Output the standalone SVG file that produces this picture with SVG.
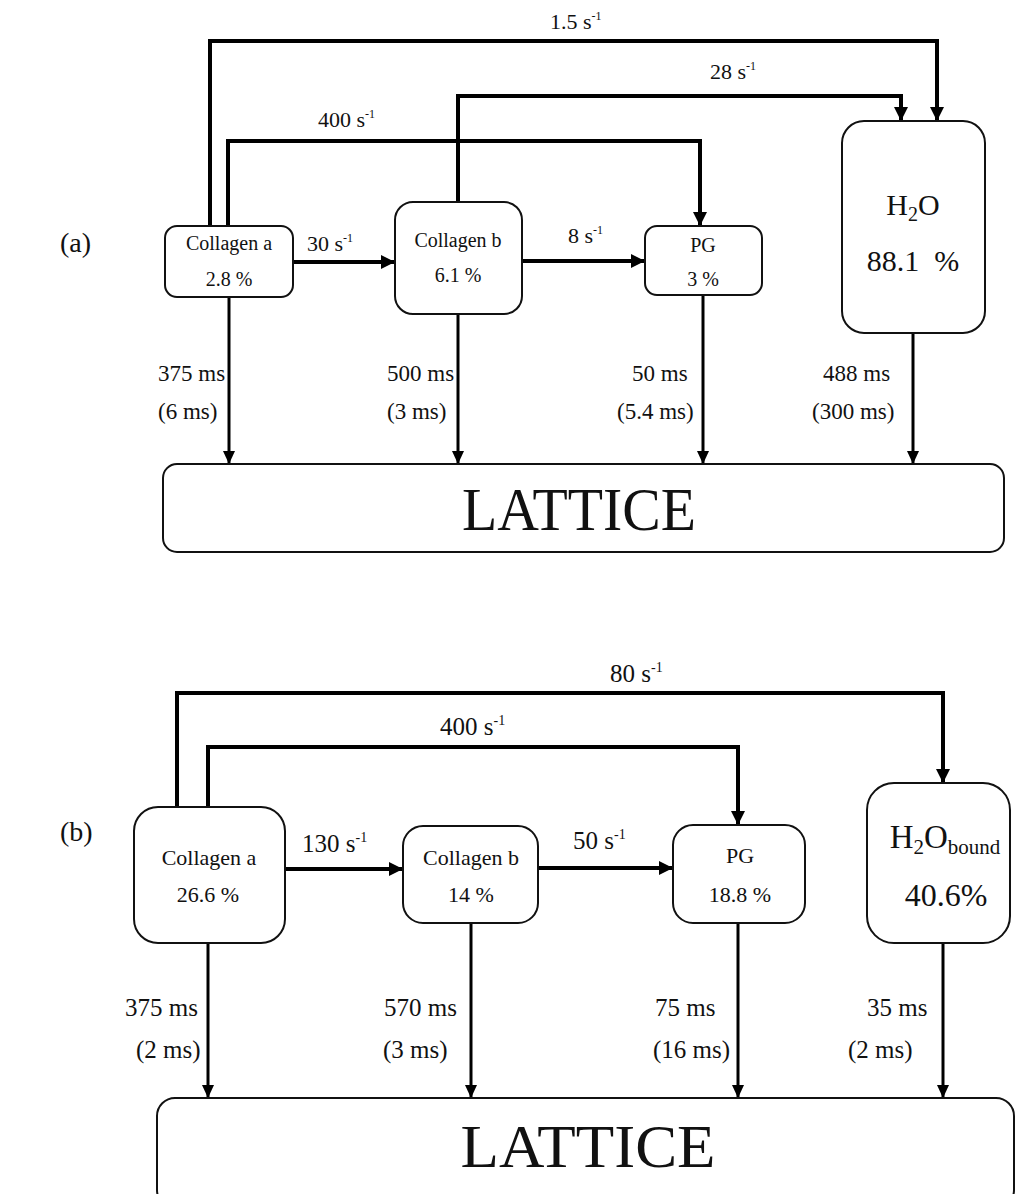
<svg xmlns="http://www.w3.org/2000/svg" width="1016" height="1194" viewBox="0 0 1016 1194">
<style>
  text { font-family: "Liberation Serif", "Times New Roman", serif; fill: #111; }
  .box { fill: #fff; stroke: #111; stroke-width: 2; }
  .rate { fill: none; stroke: #000; stroke-width: 4; }
  .decay { fill: none; stroke: #000; stroke-width: 3; }
  .na { font-size: 20px; text-anchor: middle; }
  .nb { font-size: 22px; text-anchor: middle; }
  .ra { font-size: 22px; }
  .rb { font-size: 25px; }
  .ma { font-size: 23px; }
  .mb { font-size: 25px; }
  .lat { font-size: 62px; text-anchor: middle; }
  .tag { font-size: 28px; }
</style>
<defs>
  <marker id="ah" markerUnits="userSpaceOnUse" markerWidth="14" markerHeight="14" refX="14" refY="7" orient="auto">
    <path d="M0,0 L14,7 L0,14 z" fill="#000"/>
  </marker>
  <marker id="ahs" markerUnits="userSpaceOnUse" markerWidth="13" markerHeight="12" refX="13" refY="6" orient="auto">
    <path d="M0,0 L13,6 L0,12 z" fill="#000"/>
  </marker>
</defs>
<rect width="1016" height="1194" fill="#fff"/>

<text class="tag" x="60" y="252">(a)</text>
<text class="tag" x="60" y="841">(b)</text>

<!-- ===== (a) connectors ===== -->
<g id="connectors-a">
  <path class="rate" d="M210,226 V41 H937 V121" marker-end="url(#ah)"/>
  <path class="rate" d="M458,202 V96 H901 V121" marker-end="url(#ah)"/>
  <path class="rate" d="M228,226 V141 H700 V226" marker-end="url(#ah)"/>
  <path class="rate" d="M293,262 H395" marker-end="url(#ah)"/>
  <path class="rate" d="M522,261 H645" marker-end="url(#ah)"/>
  <path class="decay" d="M229,297 V464" marker-end="url(#ahs)"/>
  <path class="decay" d="M458,314 V464" marker-end="url(#ahs)"/>
  <path class="decay" d="M703,295 V464" marker-end="url(#ahs)"/>
  <path class="decay" d="M913,333 V464" marker-end="url(#ahs)"/>
  <text class="ra" x="550" y="29">1.5 s<tspan font-size="12" dy="-9">-1</tspan></text>
  <text class="ra" x="710" y="79">28 s<tspan font-size="12" dy="-9">-1</tspan></text>
  <text class="ra" x="318" y="127">400 s<tspan font-size="12" dy="-9">-1</tspan></text>
  <text class="ra" x="307" y="251">30 s<tspan font-size="12" dy="-9">-1</tspan></text>
  <text class="ra" x="568" y="243">8 s<tspan font-size="12" dy="-9">-1</tspan></text>
  <text class="ma" x="158" y="381">375 ms</text>
  <text class="ma" x="158" y="419">(6 ms)</text>
  <text class="ma" x="387" y="381">500 ms</text>
  <text class="ma" x="387" y="419">(3 ms)</text>
  <text class="ma" x="632" y="381">50 ms</text>
  <text class="ma" x="617" y="419">(5.4 ms)</text>
  <text class="ma" x="823" y="381">488 ms</text>
  <text class="ma" x="812" y="419">(300 ms)</text>
</g>

<!-- ===== (a) nodes ===== -->
<g id="a-collagen-a">
  <rect class="box" x="165" y="226" width="128" height="71" rx="12"/>
  <text class="na" x="229" y="250">Collagen a</text>
  <text class="na" x="229" y="286">2.8 %</text>
</g>
<g id="a-collagen-b">
  <rect class="box" x="395" y="202" width="127" height="112" rx="18"/>
  <text class="na" x="458" y="247">Collagen b</text>
  <text class="na" x="458" y="282">6.1 %</text>
</g>
<g id="a-pg">
  <rect class="box" x="645" y="226" width="117" height="69" rx="12"/>
  <text class="na" x="703" y="252">PG</text>
  <text class="na" x="703" y="286">3 %</text>
</g>
<g id="a-h2o">
  <rect class="box" x="842" y="121" width="143" height="212" rx="22"/>
  <text x="913" y="215" font-size="30" text-anchor="middle">H<tspan font-size="20" dy="6">2</tspan><tspan dy="-6">O</tspan></text>
  <text x="913" y="271" font-size="30" text-anchor="middle" xml:space="preserve">88.1  %</text>
</g>
<g id="a-lattice">
  <rect class="box" x="163" y="464" width="841" height="88" rx="14"/>
  <text class="lat" x="579" y="530" textLength="234" lengthAdjust="spacingAndGlyphs">LATTICE</text>
</g>

<!-- ===== (b) connectors ===== -->
<g id="connectors-b">
  <path class="rate" d="M177,807 V693 H943 V783" marker-end="url(#ah)"/>
  <path class="rate" d="M208,807 V747 H738 V825" marker-end="url(#ah)"/>
  <path class="rate" d="M285,869 H403" marker-end="url(#ah)"/>
  <path class="rate" d="M538,868 H673" marker-end="url(#ah)"/>
  <path class="decay" d="M208,943 V1098" marker-end="url(#ahs)"/>
  <path class="decay" d="M471,923 V1098" marker-end="url(#ahs)"/>
  <path class="decay" d="M738,923 V1098" marker-end="url(#ahs)"/>
  <path class="decay" d="M943,943 V1098" marker-end="url(#ahs)"/>
  <text class="rb" x="610" y="682">80 s<tspan font-size="14" dy="-10">-1</tspan></text>
  <text class="rb" x="440" y="735">400 s<tspan font-size="14" dy="-10">-1</tspan></text>
  <text class="rb" x="302" y="852">130 s<tspan font-size="14" dy="-10">-1</tspan></text>
  <text class="rb" x="573" y="849">50 s<tspan font-size="14" dy="-10">-1</tspan></text>
  <text class="mb" x="125" y="1016">375 ms</text>
  <text class="mb" x="136" y="1058">(2 ms)</text>
  <text class="mb" x="384" y="1016">570 ms</text>
  <text class="mb" x="383" y="1058">(3 ms)</text>
  <text class="mb" x="655" y="1016">75 ms</text>
  <text class="mb" x="653" y="1058">(16 ms)</text>
  <text class="mb" x="867" y="1016">35 ms</text>
  <text class="mb" x="848" y="1058">(2 ms)</text>
</g>

<!-- ===== (b) nodes ===== -->
<g id="b-collagen-a">
  <rect class="box" x="134" y="807" width="151" height="136" rx="24"/>
  <text class="nb" x="209" y="865">Collagen a</text>
  <text class="nb" x="208" y="902">26.6 %</text>
</g>
<g id="b-collagen-b">
  <rect class="box" x="403" y="826" width="135" height="97" rx="20"/>
  <text class="nb" x="471" y="865">Collagen b</text>
  <text class="nb" x="471" y="902">14 %</text>
</g>
<g id="b-pg">
  <rect class="box" x="673" y="825" width="132" height="98" rx="20"/>
  <text class="nb" x="740" y="863">PG</text>
  <text class="nb" x="740" y="902">18.8 %</text>
</g>
<g id="b-h2o-bound">
  <rect class="box" x="867" y="783" width="143" height="160" rx="27"/>
  <text x="945" y="848" font-size="33" text-anchor="middle">H<tspan font-size="21" dy="6">2</tspan><tspan dy="-6">O</tspan><tspan font-size="21" dy="6">bound</tspan></text>
  <text x="946" y="906" font-size="32" text-anchor="middle">40.6%</text>
</g>
<g id="b-lattice">
  <rect class="box" x="157" y="1098" width="857" height="110" rx="18"/>
  <text class="lat" x="588" y="1167" textLength="255" lengthAdjust="spacingAndGlyphs">LATTICE</text>
</g>
</svg>
